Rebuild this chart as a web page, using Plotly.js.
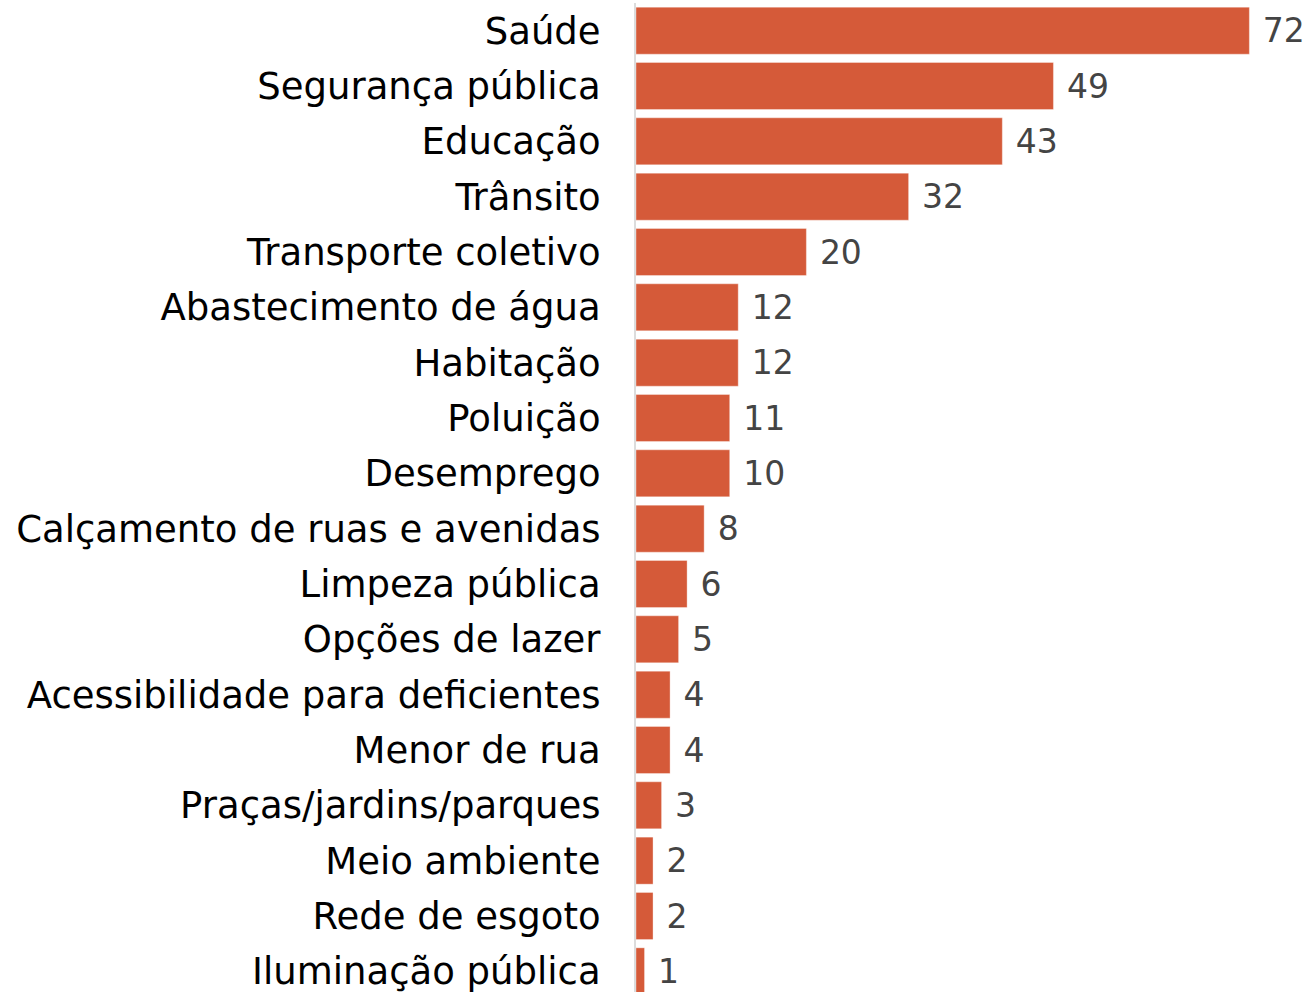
<!DOCTYPE html>
<html>
<head>
<meta charset="utf-8">
<script src="https://cdn.plot.ly/plotly-3.0.1.min.js"></script>
<style>
html,body{margin:0;padding:0;overflow:hidden;background:#fff;}
#chart{width:1309px;height:1000px;}
</style>
</head>
<body>
<div id="chart"></div>
<script>
const categories = [
  "Saúde","Segurança pública","Educação","Trânsito","Transporte coletivo",
  "Abastecimento de água","Habitação","Poluição","Desemprego",
  "Calçamento de ruas e avenidas","Limpeza pública","Opções de lazer",
  "Acessibilidade para deficientes","Menor de rua","Praças/jardins/parques",
  "Meio ambiente","Rede de esgoto","Iluminação pública"
];
// bar lengths as drawn in the picture
const values = [72,49,43,32,20,12,12,11,11,8,6,5,4,4,3,2,2,1];
// numbers printed next to the bars
const labels = ["72","49","43","32","20","12","12","11","10","8","6","5","4","4","3","2","2","1"];

const trace = {
  type: 'bar',
  orientation: 'h',
  y: categories,
  x: values,
  marker: {color: '#d55a39', line: {width: 1, color: 'rgba(255,255,255,0.35)'}},
  text: labels.map(s => '\u00a0' + s),
  texttemplate: '%{text}',
  textposition: 'outside',
  cliponaxis: false,
  textfont: {family: 'DejaVu Sans', size: 33, color: '#444444'},
  hoverinfo: 'none'
};

const layout = {
  width: 1309,
  height: 1000,
  margin: {l: 636, r: 0, t: 3, b: 1, pad: 0},
  paper_bgcolor: '#ffffff',
  plot_bgcolor: '#ffffff',
  bargap: 0.15,
  showlegend: false,
  xaxis: {
    range: [0, 79],
    showgrid: false,
    zeroline: false,
    showticklabels: false,
    showline: false,
    fixedrange: true
  },
  yaxis: {
    autorange: 'reversed',
    showgrid: false,
    zeroline: false,
    showline: true,
    linecolor: '#dcdcdc',
    linewidth: 2,
    ticks: 'outside',
    ticklen: 26,
    tickcolor: 'rgba(0,0,0,0)',
    tickfont: {family: 'DejaVu Sans', size: 37, color: '#000000'},
    fixedrange: true
  },
  font: {family: 'DejaVu Sans'}
};

Plotly.newPlot('chart', [trace], layout, {displayModeBar: false, staticPlot: true});
</script>
</body>
</html>
